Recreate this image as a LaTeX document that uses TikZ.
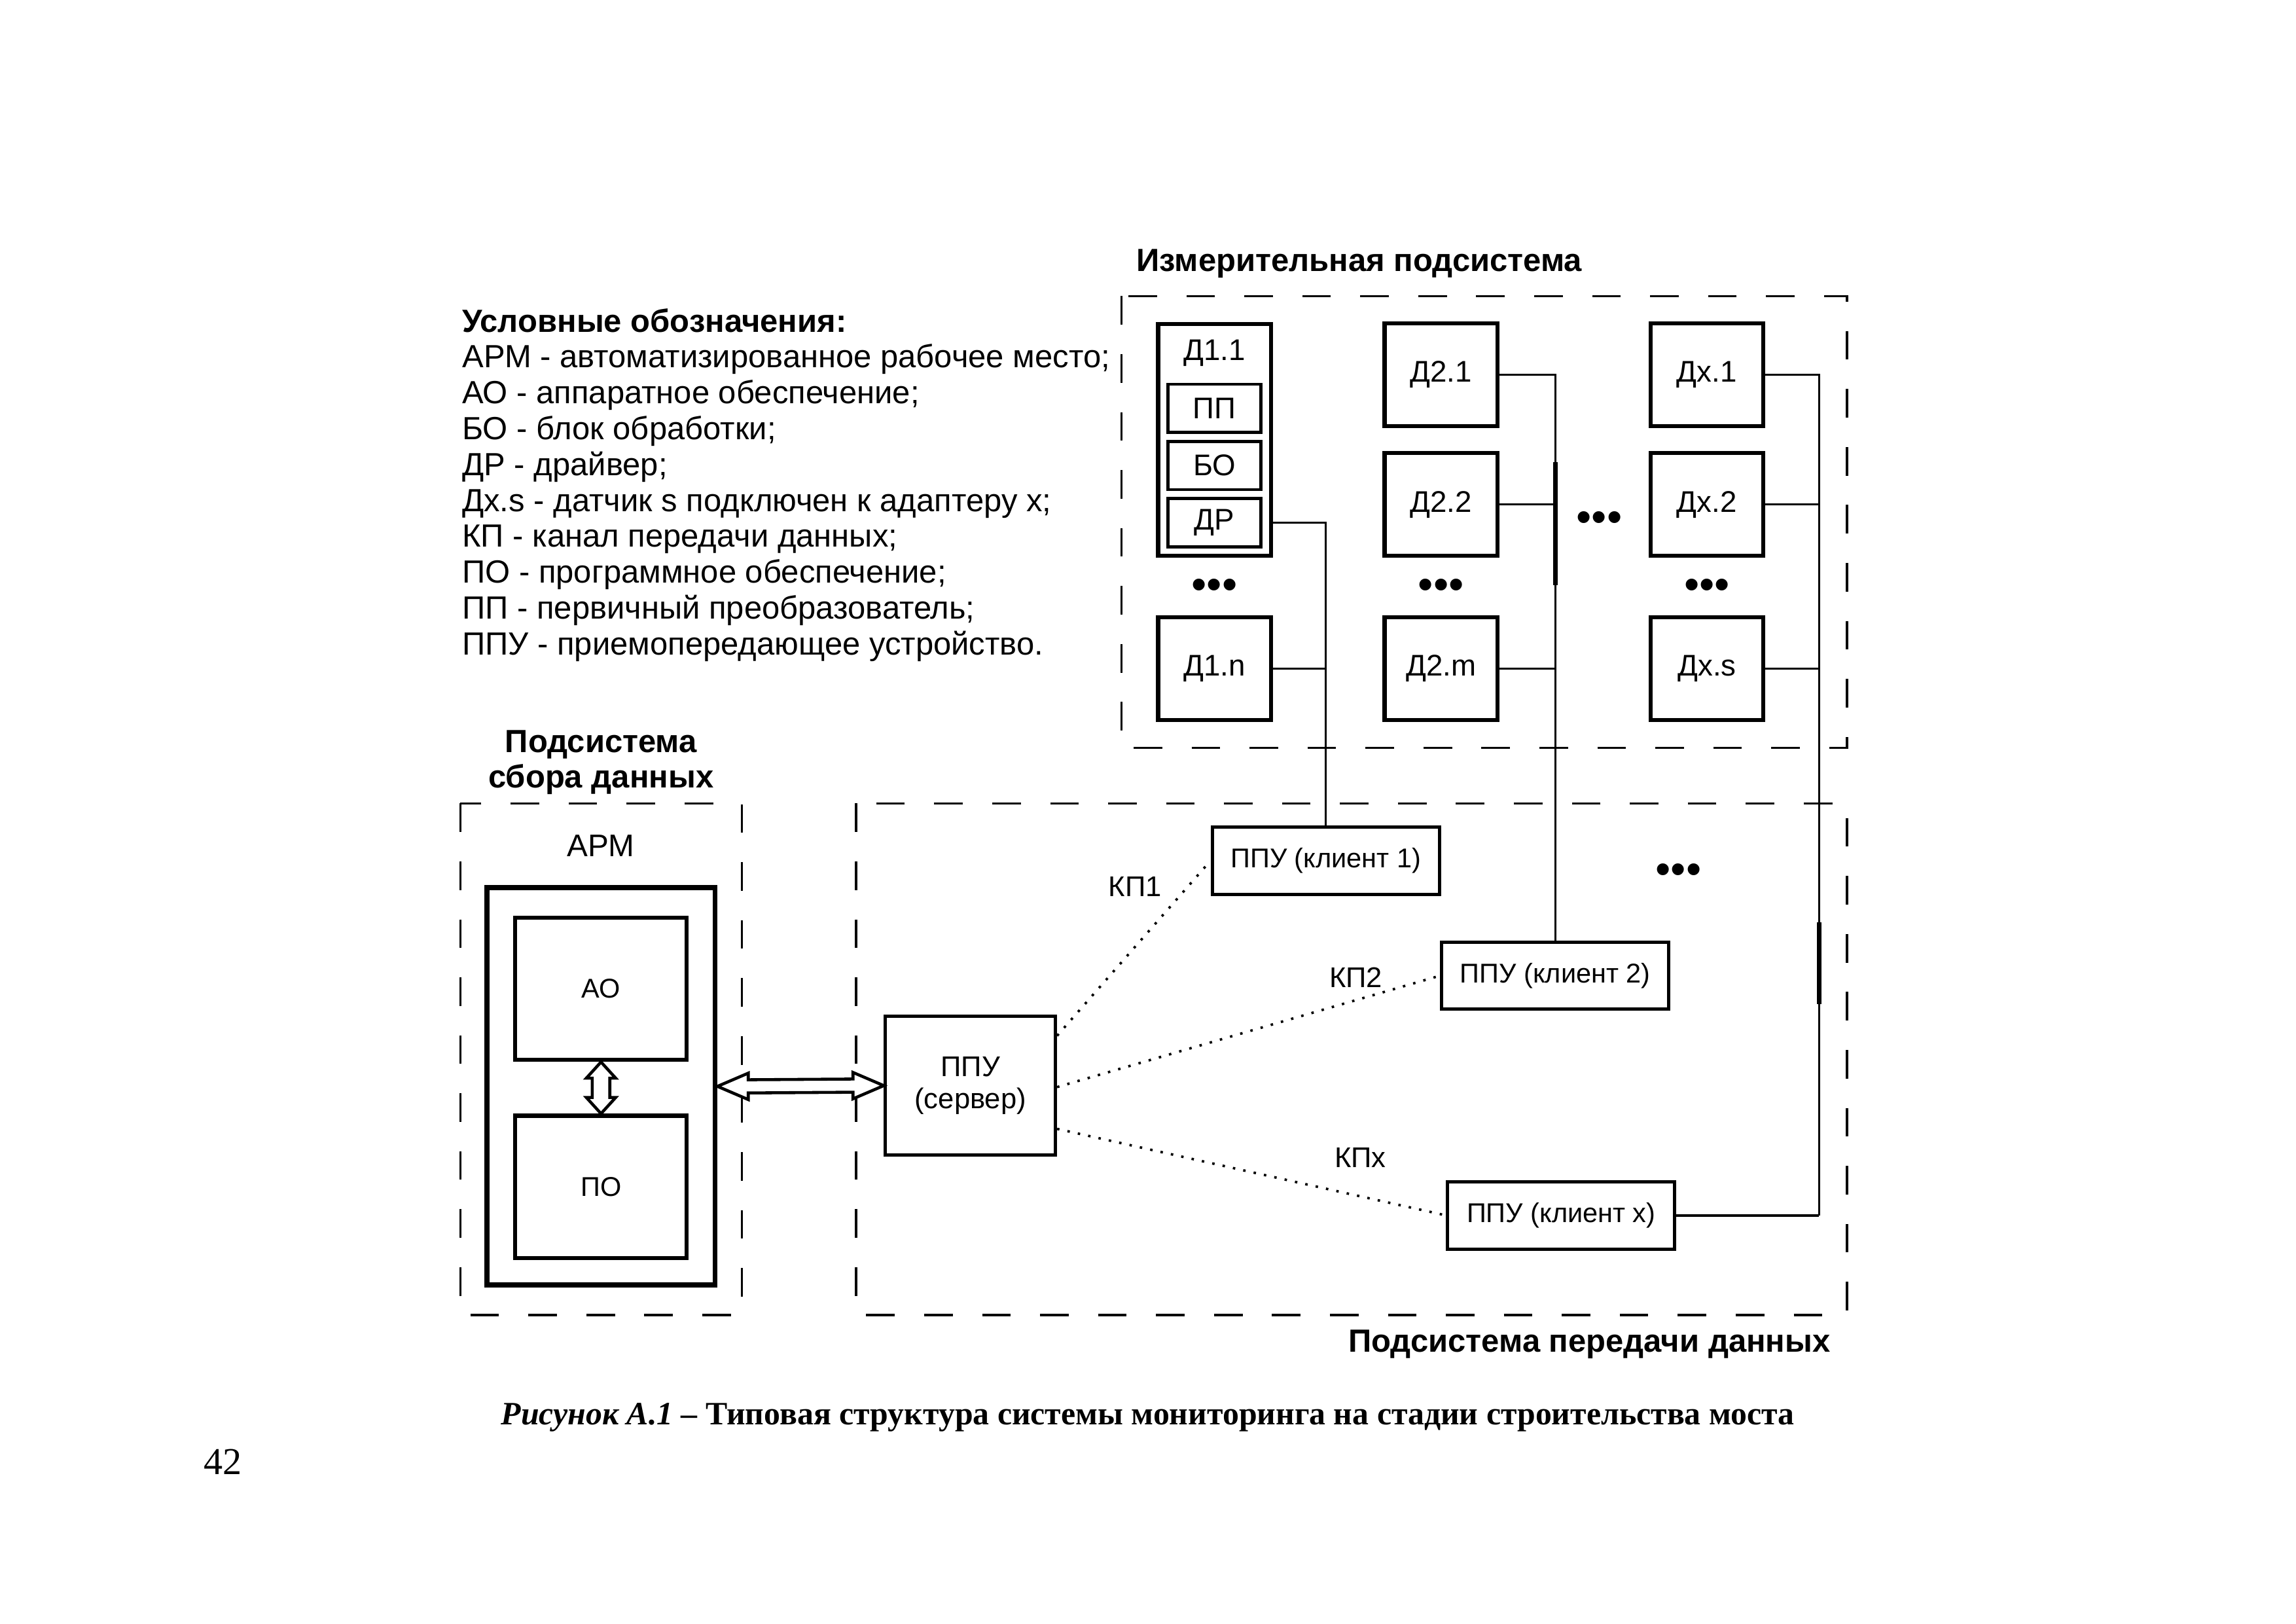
\documentclass[tikz,border=0pt]{standalone}
\usepackage{fontspec}
\setmainfont{Liberation Sans}
\newfontfamily\serif{Liberation Serif}
\usetikzlibrary{positioning, calc}

\tikzset{
  box/.style={draw, line width=1.5pt, inner sep=0pt, font=\fontsize{11}{13}\selectfont},
  sensor/.style={box, minimum width=1.46cm, minimum height=1.33cm},
  part/.style={box, line width=1.1pt, minimum width=1.2cm, minimum height=0.625cm},
  ppu/.style={box, line width=1.2pt, minimum width=2.94cm, minimum height=0.87cm, font=\fontsize{10}{12}\selectfont},
  zone/.style={draw, line width=0.8pt, dash pattern=on 0.37cm off 0.38cm},
  wire/.style={line width=0.7pt},
  trunk/.style={line width=1.7pt},
  chan/.style={line width=0.9pt, dash pattern=on 0.9pt off 3pt},
  kp/.style={font=\fontsize{10.5}{12}\selectfont, inner sep=0pt},
  title/.style={font=\bfseries\fontsize{11.8}{13.2}\selectfont},
  etc/.style={font=\fontsize{16}{16}\selectfont, inner sep=0pt},
  dbl/.style={line width=1.1pt, fill=white}
}

\begin{document}
\begin{tikzpicture}[x=0.018962cm, y=-0.018962cm, on grid]
    \useasboundingbox (0,0) rectangle (1566.3,1107.4);

    % legend
    \node[anchor=north west, align=left, inner sep=0pt, font=\fontsize{11.8}{13.2}\selectfont] (legend) at (315,210) {%
      \textbf{Условные обозначения:}\\
      АРМ - автоматизированное рабочее место;\\
      АО - аппаратное обеспечение;\\
      БО - блок обработки;\\
      ДР - драйвер;\\
      Дх.s - датчик s подключен к адаптеру х;\\
      КП - канал передачи данных;\\
      ПО - программное обеспечение;\\
      ПП - первичный преобразователь;\\
      ППУ - приемопередающее устройство.};

    % measuring subsystem
    \draw[zone] (765,202) rectangle (1260,510);
    \node[title, anchor=west, inner sep=0pt] (meas) at (775,180) {Измерительная подсистема};

    \node[sensor, minimum height=3cm] (d11) at (828.5,300) {};
    \node[font=\fontsize{11}{13}\selectfont] (d11l) at (828.5,241) {Д1.1};
    \node[part] (pp) at (828.5,278.5) {ПП};
    \node[part, below=0.74cm of pp] (bo) {БО};
    \node[part, below=0.74cm of bo] (dr) {ДР};
    \node[sensor] (d1n) at (828.5,456) {Д1.n};

    \node[sensor] (d21) at (983,255.5) {Д2.1};
    \node[sensor, below=1.68cm of d21] (d22) {Д2.2};
    \node[sensor] (d2m) at (983,456) {Д2.m};

    \node[sensor, right=3.44cm of d21] (dx1) {Дх.1};
    \node[sensor, below=1.68cm of dx1] (dx2) {Дх.2};
    \node[sensor] (dxs) at (1164.5,456) {Дх.s};

    \node[etc] (e1) at (828.5,402) {•••};
    \node[etc] (e2) at (983,402) {•••};
    \node[etc] (ex) at (1164.5,402) {•••};
    \node[etc] (ecol) at (1091,356) {•••};

    % data transmission subsystem
    \draw[zone] (584,548) rectangle (1260,897);
    \node[title, anchor=east, inner sep=0pt] (trans) at (1249,917) {Подсистема передачи данных};

    \node[box, line width=1.2pt, minimum width=2.2cm, minimum height=1.8cm, align=center,
          font=\fontsize{10.5}{12}\selectfont] (srv) at (662,740.5) {ППУ\\(сервер)};
    \node[ppu] (c1) at (904.5,587) {ППУ (клиент 1)};
    \node[ppu] (c2) at (1061,665.5) {ППУ (клиент 2)};
    \node[ppu] (cx) at (1065,829) {ППУ (клиент x)};
    \node[etc] (ec) at (1145,596) {•••};
    \coordinate (bx) at (1241,829);

    % data acquisition subsystem
    \draw[zone] (314,548) rectangle (506,897);
    \node[title, align=center] (acq) at (410,520) {Подсистема\\сбора данных};
    \node[font=\fontsize{11.5}{13}\selectfont] (armt) at (410,577) {АРМ};
    \node[draw, line width=1.8pt, minimum width=2.95cm, minimum height=5.14cm] (arm) at (410,741) {};
    \node[box, minimum width=2.22cm, minimum height=1.84cm, font=\fontsize{10}{12}\selectfont] (ao) at (410,674.5) {АО};
    \node[box, minimum width=2.22cm, minimum height=1.84cm, font=\fontsize{10}{12}\selectfont] (po) at (410,809.5) {ПО};

    % sensor buses
    \draw[wire] (d11.east |- dr.east) -| (c1.north);
    \draw[wire] (d1n.east) -- (d1n.east -| c1.north);
    \draw[wire] (d21.east) -| (c2.north);
    \draw[wire] (d22.east) -- (d22.east -| c2.north);
    \draw[wire] (d2m.east) -- (d2m.east -| c2.north);
    \draw[trunk] (c2.north |- 0,315) -- (c2.north |- 0,399);
    \draw[wire] (dx1.east) -| (bx);
    \draw[wire] (dx2.east) -- (dx2.east -| bx);
    \draw[wire] (dxs.east) -- (dxs.east -| bx);
    \draw[trunk] (bx |- 0,629) -- (bx |- 0,685);
    \draw[wire, line width=1pt] (cx.east) -- (bx);

    % channels
    \path[chan]
    ($(srv.east)+(0,-34)$) edge node[kp, pos=0.85, left=0.32cm] {КП1} (c1.west)
    ($(srv.east)+(0,1)$) edge node[kp, pos=0.78, above=0.15cm] {КП2} (c2.west)
    ($(srv.east)+(0,29.5)$) edge node[kp, pos=0.78, above=0.36cm] {КПx} (cx.west)
    ;

    % double arrows
    \draw[dbl] (arm.east) -- ++(21,-9) -- ++(0,4.5) -- ($(srv.west)+(-21,-4.5)$) -- ++(0,-4.5)
      -- (srv.west) -- ++(-21,9) -- ++(0,-4.5) -- ($(arm.east)+(21,4.5)$) -- ++(0,4.5) -- cycle;
    \draw[dbl] (ao.south) -- ++(10,11) -- ++(-4,0) -- ($(po.north)+(6,-11)$) -- ++(4,0)
      -- (po.north) -- ++(-10,-11) -- ++(4,0) -- ($(ao.south)+(-6,11)$) -- ++(-4,0) -- cycle;

    % caption
    \node[font=\serif\bfseries\fontsize{12}{14}\selectfont] (cap) at (783,967)
      {\textit{Рисунок А.1} – Типовая структура системы мониторинга на стадии строительства моста};
    \node[font=\serif\fontsize{14}{16}\selectfont] (page) at (152,997) {42};
\end{tikzpicture}
\end{document}
